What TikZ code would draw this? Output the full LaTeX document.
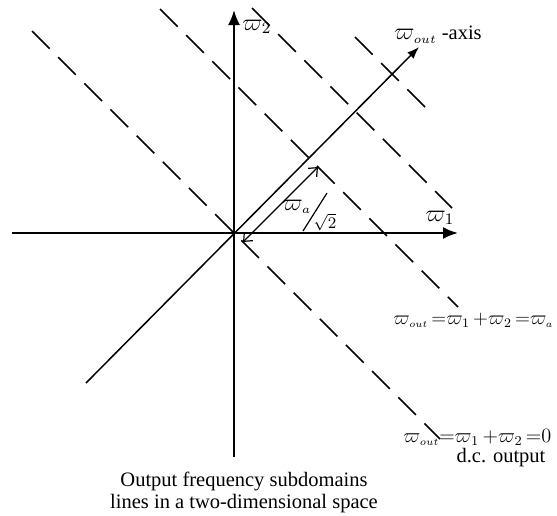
\documentclass[tikz,border=0pt]{standalone}
\usepackage{fontspec}
\setmainfont{Liberation Serif}
\usetikzlibrary{arrows.meta}
\newcommand{\wout}{\varpi_{\scriptscriptstyle out}}

\begin{document}
\begin{tikzpicture}[x=0.5pt, y=-0.5pt, font=\fontsize{10.25}{11}\selectfont]

    % --- 0. Frame: keep the picture the size of the reference ---
    \useasboundingbox (0,0) rectangle (557,515);

    % --- Styles ---
    \tikzset{
      axis/.style={line width=1pt, -{Latex[length=7.5pt,width=6pt]}},
      outaxis/.style={line width=0.75pt, -{Latex[length=6pt,width=4.5pt]}},
      subline/.style={line width=0.75pt, dash pattern=on 12.5pt off 6pt},
      dimline/.style={line width=0.6pt,
        {Straight Barb[length=3.5pt,width=6pt]}-{Straight Barb[length=3.5pt,width=6pt]}},
      lbl/.style={inner sep=0pt},
      mlbl/.style={inner sep=0pt, font=\fontsize{11.5}{13}\selectfont},
      eqlbl/.style={inner sep=0pt, font=\fontsize{12}{13}\selectfont}
    }

    % --- 1. Axes omega_1, omega_2 and the omega_out axis ---
    \coordinate (O)    at (234,233);
    \coordinate (w1L)  at (12,233);
    \coordinate (w1R)  at (458,233);
    \coordinate (w2B)  at (234,457);
    \coordinate (w2T)  at (234,10);
    \coordinate (outL) at (86,383);
    \coordinate (outR) at (419,47);

    \draw[axis] (w1L) -- (w1R);
    \draw[axis] (w2B) -- (w2T);
    \draw[outaxis] (outL) -- (outR);

    % --- 2. Dashed subdomain lines (omega_1 + omega_2 = const) ---
    \foreach \n/\sx/\sy/\ex/\ey in {dc/32/31/440/439,
                                    wa/160/9/458/307,
                                    lb/252/8/452/208,
                                    lc/355/37/425/107} {
      \coordinate (\n-s) at (\sx,\sy);
      \coordinate (\n-e) at (\ex,\ey);
      \draw[subline] (\n-s) -- (\n-e);
    }

    % --- 3. Distance omega_a / sqrt 2 along the omega_out axis ---
    \coordinate (dimA) at (243,242);
    \coordinate (dimB) at (318,167);
    \draw[dimline] (dimA) -- (dimB);

    \node[mlbl] (lwa) at (297,207) {$\varpi_{\scriptscriptstyle a}$};
    \coordinate (slA) at (303,231);
    \coordinate (slB) at (327,193);
    \draw[line width=0.6pt] (slA) -- (slB);
    \node[lbl, font=\fontsize{8}{9}\selectfont] (lsq) at (325,222) {$\sqrt{2}$};

    % --- 4. Axis labels ---
    \node[mlbl, anchor=west] (lw2) at (242,27) {$\varpi_2$};
    \node[mlbl] (lw1) at (440,218) {$\varpi_1$};
    \node[mlbl, anchor=west] (lout) at (394,35)
      {$\wout$\fontsize{10.25}{11}\selectfont\ -axis};

    % --- 5. Line equations (squeezed to the reference's width) ---
    \node[eqlbl, anchor=west] (leqa) at (393,320)
      {\resizebox{80pt}{!}{$\wout\,{=}\varpi_1\,{+}\varpi_2\,{=}\varpi_{\scriptscriptstyle a}$}};
    \node[eqlbl, anchor=west] (leq0) at (403,437)
      {\resizebox{74pt}{!}{$\wout{=}\varpi_1\,{+}\varpi_2\,{=}0$}};
    \node[lbl] (ldc) at (501,458) {d.c. output};

    % --- 6. Caption ---
    \node[lbl, align=center] (cap) at (244,492)
      {Output frequency subdomains\\lines in a two-dimensional space};

\end{tikzpicture}
\end{document}
